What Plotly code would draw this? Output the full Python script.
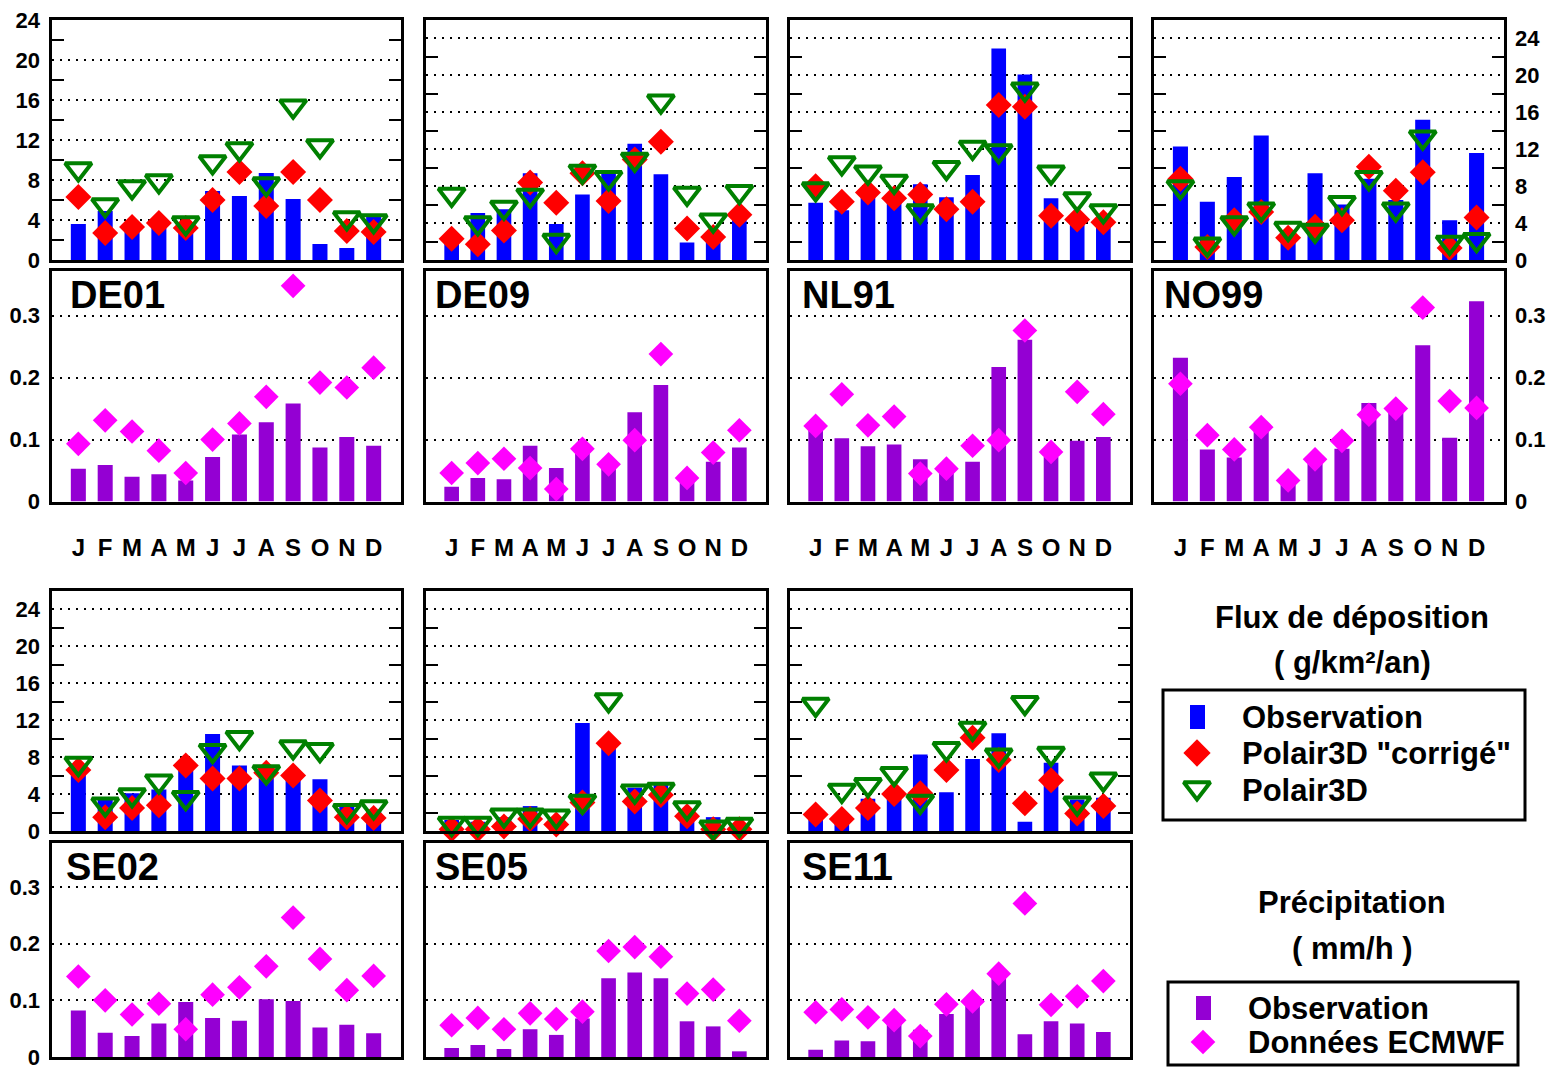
import plotly.graph_objects as go

# ---------------- data ----------------
months = ["J", "F", "M", "A", "M", "J", "J", "A", "S", "O", "N", "D"]
month_idx = list(range(1, 13))
stations = ["DE01", "DE09", "NL91", "NO99", "SE02", "SE05", "SE11"]

# deposition flux (g/km2/an)
obs_DE01 = [3.6, 4.9, 3.3, 3.6, 3.5, 6.9, 6.4, 8.7, 6.1, 1.6, 1.2, 4.3]
corr_DE01 = [6.3, 2.7, 3.3, 3.7, 3.2, 6.0, 8.8, 5.4, 8.8, 6.0, 2.9, 2.8]
p3d_DE01 = [9.1, 5.5, 7.3, 7.9, 3.7, 9.8, 11.1, 7.6, 15.4, 11.4, 4.2, 3.9]

obs_DE09 = [1.8, 5.1, 5.5, 9.4, 3.9, 7.1, 9.4, 12.6, 9.3, 1.9, 3.0, 4.3]
corr_DE09 = [2.3, 1.7, 3.2, 8.4, 6.2, 9.4, 6.4, 10.9, 12.8, 3.4, 2.5, 4.9]
p3d_DE09 = [7.1, 4.0, 5.7, 7.0, 2.1, 9.6, 8.9, 10.9, 17.2, 7.2, 4.3, 7.4]

obs_NL91 = [6.2, 5.4, 6.8, 6.2, 8.2, 6.8, 9.2, 22.9, 20.1, 6.7, 4.3, 4.1]
corr_NL91 = [8.0, 6.3, 7.3, 6.7, 7.1, 5.5, 6.3, 16.8, 16.6, 4.8, 4.4, 4.1]
p3d_NL91 = [7.7, 10.5, 9.5, 8.5, 5.3, 10.0, 12.2, 11.8, 18.5, 9.5, 6.6, 5.3]

obs_NO99 = [12.3, 6.3, 9.0, 13.5, 2.8, 9.4, 6.0, 8.8, 6.5, 15.2, 4.3, 11.6]
corr_NO99 = [8.8, 1.4, 4.3, 5.2, 2.4, 3.6, 4.3, 10.1, 7.5, 9.5, 1.3, 4.6]
p3d_NO99 = [7.9, 1.7, 4.0, 5.5, 3.4, 3.2, 6.2, 8.9, 5.5, 13.3, 1.9, 2.2]

obs_SE02 = [6.3, 3.4, 4.1, 4.5, 6.5, 10.5, 7.1, 6.8, 5.8, 5.6, 2.8, 2.3]
corr_SE02 = [6.6, 1.5, 2.5, 2.8, 7.1, 5.7, 5.7, 6.3, 6.0, 3.3, 1.5, 1.4]
p3d_SE02 = [7.3, 2.9, 3.9, 5.4, 3.6, 8.7, 10.1, 6.4, 9.1, 8.8, 2.2, 2.6]

obs_SE05 = [1.2, 1.0, 1.5, 2.7, 1.5, 11.7, 9.5, 4.7, 5.0, 1.4, 1.5, 0.5]
corr_SE05 = [0.2, 0.2, 0.5, 1.3, 0.7, 3.1, 9.5, 3.2, 3.9, 1.6, 0.2, 0.2]
p3d_SE05 = [0.8, 0.8, 1.7, 1.7, 1.6, 3.2, 14.2, 4.3, 4.5, 2.5, 0.4, 0.7]

obs_SE11 = [1.3, 1.0, 3.5, 3.8, 8.3, 4.2, 7.8, 10.6, 1.0, 7.4, 3.4, 3.6]
corr_SE11 = [1.8, 1.3, 2.5, 4.0, 4.1, 6.6, 10.1, 7.7, 3.0, 5.5, 1.9, 2.7]
p3d_SE11 = [13.7, 4.4, 5.0, 6.2, 3.2, 8.9, 11.1, 8.2, 13.9, 8.4, 3.0, 5.6]

# precipitation (mm/h)
pobs_DE01 = [0.053, 0.059, 0.040, 0.044, 0.034, 0.072, 0.108, 0.128, 0.158, 0.087, 0.104, 0.090]
ecm_DE01 = [0.093, 0.131, 0.113, 0.082, 0.046, 0.100, 0.126, 0.169, 0.348, 0.192, 0.184, 0.216]

pobs_DE09 = [0.024, 0.038, 0.036, 0.090, 0.054, 0.087, 0.056, 0.144, 0.188, 0.034, 0.064, 0.087]
ecm_DE09 = [0.046, 0.062, 0.069, 0.054, 0.020, 0.085, 0.060, 0.099, 0.238, 0.038, 0.079, 0.115]

pobs_NL91 = [0.115, 0.102, 0.089, 0.092, 0.068, 0.050, 0.064, 0.217, 0.261, 0.072, 0.098, 0.104]
ecm_NL91 = [0.122, 0.173, 0.123, 0.137, 0.045, 0.053, 0.090, 0.099, 0.276, 0.080, 0.177, 0.141]

pobs_NO99 = [0.232, 0.084, 0.071, 0.115, 0.029, 0.064, 0.085, 0.159, 0.145, 0.252, 0.103, 0.323]
ecm_NO99 = [0.190, 0.107, 0.084, 0.120, 0.034, 0.068, 0.098, 0.140, 0.150, 0.313, 0.162, 0.151]

pobs_SE02 = [0.082, 0.043, 0.037, 0.059, 0.097, 0.069, 0.064, 0.102, 0.099, 0.052, 0.057, 0.042]
ecm_SE02 = [0.142, 0.100, 0.075, 0.094, 0.049, 0.110, 0.123, 0.160, 0.246, 0.173, 0.118, 0.143]

pobs_SE05 = [0.016, 0.021, 0.014, 0.049, 0.039, 0.068, 0.139, 0.149, 0.139, 0.063, 0.054, 0.010]
ecm_SE05 = [0.056, 0.069, 0.049, 0.077, 0.067, 0.080, 0.187, 0.194, 0.177, 0.112, 0.119, 0.064]

pobs_SE11 = [0.013, 0.029, 0.028, 0.060, 0.048, 0.076, 0.090, 0.141, 0.040, 0.063, 0.059, 0.044]
ecm_SE11 = [0.079, 0.084, 0.070, 0.065, 0.037, 0.093, 0.098, 0.147, 0.271, 0.092, 0.107, 0.134]

flux_ticks = [0, 4, 8, 12, 16, 20, 24]
flux_minor = [2, 6, 10, 14, 18, 22]
prec_ticks = [0, 0.1, 0.2, 0.3]
prec_ticktext = ["0", "0.1", "0.2", "0.3"]

flux_obs = [obs_DE01, obs_DE09, obs_NL91, obs_NO99, obs_SE02, obs_SE05, obs_SE11]
flux_corr = [corr_DE01, corr_DE09, corr_NL91, corr_NO99, corr_SE02, corr_SE05, corr_SE11]
flux_p3d = [p3d_DE01, p3d_DE09, p3d_NL91, p3d_NO99, p3d_SE02, p3d_SE05, p3d_SE11]
prec_obs = [pobs_DE01, pobs_DE09, pobs_NL91, pobs_NO99, pobs_SE02, pobs_SE05, pobs_SE11]
prec_ecm = [ecm_DE01, ecm_DE09, ecm_NL91, ecm_NO99, ecm_SE02, ecm_SE05, ecm_SE11]

# ---------------- layout geometry (reference pixels) ----------------
W, H = 1544, 1063
OFFX, OFFY = 8, 8            # default body margin of the html page
FONT = "Liberation Sans, Arial, Helvetica, sans-serif"
LW = 3                       # frame line width

BLUE = "#0000FF"
RED = "#FF0000"
GREEN = "#008000"
PURPLE = "#9400D3"
MAGENTA = "#FF00FF"


def fx(X):
    return (X - OFFX) / W


def fy(Y):
    return 1 - (Y - OFFY) / H


cols = [(50, 402), (424, 767), (788, 1131), (1152, 1505)]
pos = [(0, 0), (0, 1), (0, 2), (0, 3), (1, 0), (1, 1), (1, 2)]
rows_up = [(20, 260), (591, 831)]
rows_lo = [(271, 501.5), (843, 1057)]
lo_range = [0.372, 0.3776]
label_x = [68, 433, 800, 1162, 64, 433, 800]

fig = go.Figure()
layout = dict(
    width=W, height=H,
    margin=dict(l=0, r=0, t=0, b=0, autoexpand=False),
    paper_bgcolor="white", plot_bgcolor="rgba(0,0,0,0)",
    showlegend=False,
    font=dict(family=FONT, color="black", weight="bold"),
    annotations=[], shapes=[],
)

grid_style = dict(showgrid=True, gridcolor="black", griddash="2px,6px", gridwidth=1.5)
frame = dict(showline=True, linecolor="black", linewidth=LW, zeroline=False, automargin=False)
tick_font = dict(size=22, family=FONT, weight="bold")

for i, st in enumerate(stations):
    r, c = pos[i]
    n_up = 2 * i + 1
    n_lo = 2 * i + 2
    xu = "x" if n_up == 1 else f"x{n_up}"
    yu = "y" if n_up == 1 else f"y{n_up}"
    xl, yl = f"x{n_lo}", f"y{n_lo}"
    # axis lines are drawn half a line width outside the domain
    xdom = [fx(cols[c][0] + LW / 2), fx(cols[c][1] - LW / 2)]

    label_side = None
    if c == 0:
        label_side = "left"
    elif c == 3:
        label_side = "right"

    ymax_up = 24.02 if st == "DE01" else 26

    layout["xaxis" if n_up == 1 else f"xaxis{n_up}"] = dict(
        domain=xdom, anchor=yu, range=[0, 13], showticklabels=False,
        ticks="", showgrid=False, mirror=True, **frame)
    layout["yaxis" if n_up == 1 else f"yaxis{n_up}"] = dict(
        domain=[fy(rows_up[r][1]), fy(rows_up[r][0])], anchor=xu,
        range=[0, ymax_up], tickmode="array", tickvals=flux_ticks,
        ticks="", mirror="ticks", side=label_side or "left",
        showticklabels=label_side is not None,
        tickfont=tick_font, ticklabelstandoff=4, ticklabeloverflow="allow",
        minor=dict(tickmode="array", tickvals=flux_minor, ticks="inside",
                   ticklen=12, tickwidth=2, tickcolor="black", showgrid=False),
        **grid_style, **frame)

    xl_ax = dict(domain=xdom, anchor=yl, range=[0, 13], ticks="",
                 showgrid=False, mirror=True, **frame)
    if r == 0:
        xl_ax.update(showticklabels=True, tickmode="array", tickvals=month_idx,
                     ticktext=months, tickfont=dict(size=24, family=FONT, weight="bold"),
                     ticklabelstandoff=23)
    else:
        xl_ax.update(showticklabels=False)
    layout[f"xaxis{n_lo}"] = xl_ax
    layout[f"yaxis{n_lo}"] = dict(
        domain=[fy(rows_lo[r][1]), fy(rows_lo[r][0])], anchor=xl,
        range=[0, lo_range[r]], tickmode="array", tickvals=prec_ticks, ticktext=prec_ticktext,
        ticks="", mirror=True, side=label_side or "left",
        showticklabels=label_side is not None,
        tickfont=tick_font, ticklabelstandoff=4, ticklabeloverflow="allow",
        **grid_style, **frame)

    fig.add_trace(go.Bar(x=month_idx, y=flux_obs[i], width=0.56, marker_color=BLUE,
                         marker_line_width=0, xaxis=xu, yaxis=yu, name="Observation"))
    fig.add_trace(go.Scatter(x=month_idx, y=flux_corr[i], mode="markers", cliponaxis=False,
                             marker=dict(symbol="diamond", size=20, color=RED, line_width=0),
                             xaxis=xu, yaxis=yu, name='Polair3D "corrigé"'))
    fig.add_trace(go.Scatter(x=month_idx, y=flux_p3d[i], mode="markers", cliponaxis=False,
                             marker=dict(symbol="triangle-down-open", size=23, color=GREEN,
                                         line=dict(width=4, color=GREEN)),
                             xaxis=xu, yaxis=yu, name="Polair3D"))
    fig.add_trace(go.Bar(x=month_idx, y=prec_obs[i], width=0.56, marker_color=PURPLE,
                         marker_line_width=0, xaxis=xl, yaxis=yl, name="Observation"))
    fig.add_trace(go.Scatter(x=month_idx, y=prec_ecm[i], mode="markers", cliponaxis=False,
                             marker=dict(symbol="diamond", size=19, color=MAGENTA, line_width=0),
                             xaxis=xl, yaxis=yl, name="Données ECMWF"))

    layout["annotations"].append(dict(
        x=fx(label_x[i]), y=fy(rows_lo[r][0] + 24), xref="paper", yref="paper",
        text=st, showarrow=False, xanchor="left", yanchor="middle",
        font=dict(size=38, family=FONT, weight="bold", color="black")))

# ---------------- legend blocks ----------------
def text_ann(X, Y, txt, size=31, anchor="center"):
    return dict(x=fx(X), y=fy(Y), xref="paper", yref="paper", text=txt, showarrow=False,
                xanchor=anchor, yanchor="middle",
                font=dict(size=size, family=FONT, weight="bold", color="black"))

layout["annotations"] += [
    text_ann(1352, 617, "Flux de déposition"),
    text_ann(1352, 662, "( g/km²/an)"),
    text_ann(1240, 717, "Observation", anchor="left"),
    text_ann(1240, 753, 'Polair3D "corrigé"', anchor="left"),
    text_ann(1240, 790, "Polair3D", anchor="left"),
    text_ann(1352, 902, "Précipitation"),
    text_ann(1352, 948, "( mm/h )"),
    text_ann(1246, 1008, "Observation", anchor="left"),
    text_ann(1246, 1042, "Données ECMWF", anchor="left"),
]

layout["shapes"] += [
    dict(type="rect", xref="paper", yref="paper", x0=fx(1163), x1=fx(1525), y0=fy(820), y1=fy(690),
         line=dict(color="black", width=3), fillcolor="rgba(0,0,0,0)"),
    dict(type="rect", xref="paper", yref="paper", x0=fx(1168), x1=fx(1518), y0=fy(1065), y1=fy(982),
         line=dict(color="black", width=3), fillcolor="rgba(0,0,0,0)"),
    dict(type="rect", xref="paper", yref="paper", x0=fx(1190), x1=fx(1205), y0=fy(729), y1=fy(705),
         line=dict(width=0), fillcolor=BLUE),
    dict(type="rect", xref="paper", yref="paper", x0=fx(1196), x1=fx(1211), y0=fy(1020), y1=fy(996),
         line=dict(width=0), fillcolor=PURPLE),
]

# hidden pixel-space axis (reference pixel units) for legend glyph markers
layout["xaxis20"] = dict(domain=[0, 1], range=[OFFX, OFFX + W], visible=False,
                         anchor="y20", automargin=False)
layout["yaxis20"] = dict(domain=[0, 1], range=[OFFY + H, OFFY], visible=False,
                         anchor="x20", automargin=False)
fig.add_trace(go.Scatter(x=[1197], y=[753], mode="markers", cliponaxis=False,
                         marker=dict(symbol="diamond", size=21, color=RED, line_width=0),
                         xaxis="x20", yaxis="y20", hoverinfo="skip"))
fig.add_trace(go.Scatter(x=[1197], y=[788], mode="markers", cliponaxis=False,
                         marker=dict(symbol="triangle-down-open", size=23, color=GREEN,
                                     line=dict(width=4, color=GREEN)),
                         xaxis="x20", yaxis="y20", hoverinfo="skip"))
fig.add_trace(go.Scatter(x=[1203], y=[1042], mode="markers", cliponaxis=False,
                         marker=dict(symbol="diamond", size=19, color=MAGENTA, line_width=0),
                         xaxis="x20", yaxis="y20", hoverinfo="skip"))

fig.update_layout(**layout)
fig.write_html("out.html")
